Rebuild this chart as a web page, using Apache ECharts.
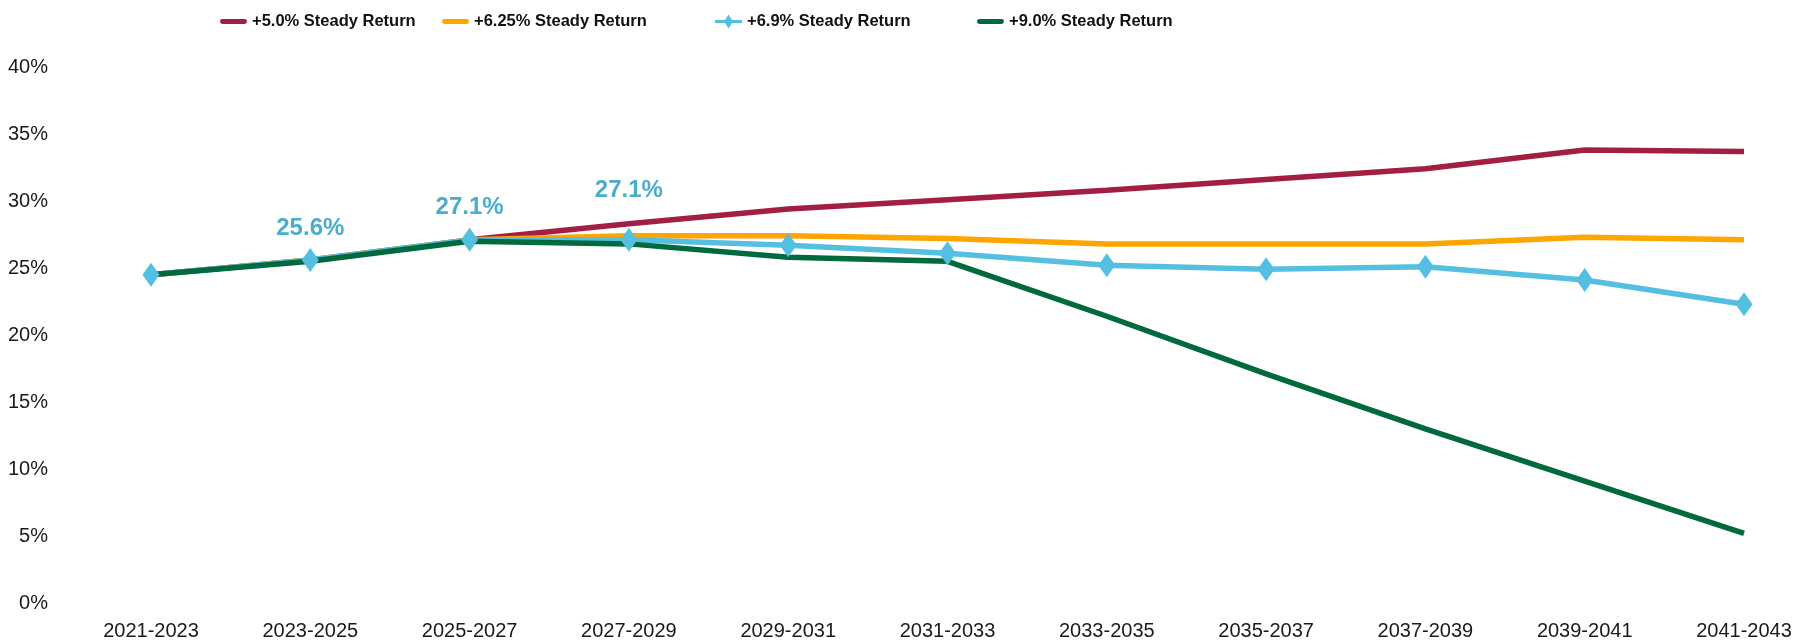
<!DOCTYPE html>
<html>
<head>
<meta charset="utf-8">
<script src="https://cdn.jsdelivr.net/npm/echarts@6/dist/echarts.min.js"></script>
<style>
  html, body { margin: 0; padding: 0; background: #fff; }
  #chart { width: 1804px; height: 642px; }
</style>
</head>
<body>
<div id="chart"></div>
<script>
// periods on the x axis
var periods = ["2021-2023", "2023-2025", "2025-2027", "2027-2029", "2029-2031", "2031-2033",
  "2033-2035", "2035-2037", "2037-2039", "2039-2041", "2041-2043"];
// funded ratio by scenario (%)
var ret50 = [24.5, 25.6, 27.1, 28.3, 29.4, 30.1, 30.8, 31.6, 32.4, 33.8, 33.7];
var ret625 = [24.5, 25.6, 27.1, 27.4, 27.4, 27.2, 26.8, 26.8, 26.8, 27.3, 27.1];
var ret69 = [24.5, 25.6, 27.1, 27.1, 26.7, 26.1, 25.2, 24.9, 25.1, 24.1, 22.3];
var ret90 = [24.5, 25.5, 27.0, 26.8, 25.8, 25.5, 21.4, 17.1, 13.0, 9.1, 5.2];
var names = ["+5.0% Steady Return", "+6.25% Steady Return", "+6.9% Steady Return", "+9.0% Steady Return"];
// which points of the 6.9% line carry a value label
var labelled = [1, 2, 3];

var font = "'Liberation Sans', Arial, sans-serif";
var lineIcon = "path://M2,0 L25,0 A2,2 0 0 1 25,5 L2,5 A2,2 0 0 1 2,0 Z";
var diamondIcon = "path://M0,5.5 L10,5.5 L13.5,0 L17,5.5 L27,5.5 L27,8.5 L17,8.5 L13.5,14 L10,8.5 L0,8.5 Z";

var blueData = ret69.map(function (v, i) {
  if (labelled.indexOf(i) < 0) return v;
  return {
    value: v,
    label: {
      show: true,
      position: "top",
      distance: i == 3 ? 25 : 8,
      formatter: "{c}%",
      color: "#4aadcc",
      fontSize: 24,
      fontWeight: "bold",
      fontFamily: font
    }
  };
});

// one legend per entry so each can sit where the reference has it
var legendLeft = [215, 437, 710, 972];
var legends = names.map(function (n, i) {
  var isBlue = i == 2;
  return {
    left: legendLeft[i],
    top: 8,
    itemWidth: 27,
    itemHeight: isBlue ? 14 : 5,
    itemGap: 4,
    textStyle: {
      fontSize: 16.5,
      fontWeight: "bold",
      color: "#111",
      fontFamily: font
    },
    data: [{ name: n, icon: isBlue ? diamondIcon : lineIcon }]
  };
});

var myChart = echarts.init(document.getElementById("chart"));
myChart.setOption({
  animation: false,
  legend: legends,
  grid: {
    left: 151,
    right: 60,
    top: 67,
    bottom: 39
  },
  xAxis: {
    type: "category",
    boundaryGap: false,
    data: periods,
    axisLine: { show: false },
    axisTick: { show: false },
    axisLabel: {
      margin: 18,
      fontSize: 20,
      color: "#1a1a1a",
      fontFamily: font
    }
  },
  yAxis: {
    type: "value",
    min: 0,
    max: 40,
    interval: 5,
    axisLine: { show: false },
    axisTick: { show: false },
    splitLine: { show: false },
    axisLabel: {
      formatter: "{value}%",
      margin: 103,
      fontSize: 20,
      color: "#1a1a1a",
      fontFamily: font
    }
  },
  series: [
    {
      name: names[0],
      type: "line",
      data: ret50,
      symbol: "none",
      lineStyle: { width: 5.5, color: "#a21e43" },
      itemStyle: { color: "#a21e43" }
    },
    {
      name: names[1],
      type: "line",
      data: ret625,
      symbol: "none",
      lineStyle: { width: 5.5, color: "#ffa500" },
      itemStyle: { color: "#ffa500" }
    },
    {
      name: names[2],
      type: "line",
      data: blueData,
      symbol: "diamond",
      symbolSize: [17, 24],
      lineStyle: { width: 5.5, color: "#55bfe2" },
      itemStyle: { color: "#55bfe2" }
    },
    {
      name: names[3],
      type: "line",
      data: ret90,
      symbol: "none",
      lineStyle: { width: 5.5, color: "#00693e" },
      itemStyle: { color: "#00693e" }
    }
  ]
});
</script>
</body>
</html>
